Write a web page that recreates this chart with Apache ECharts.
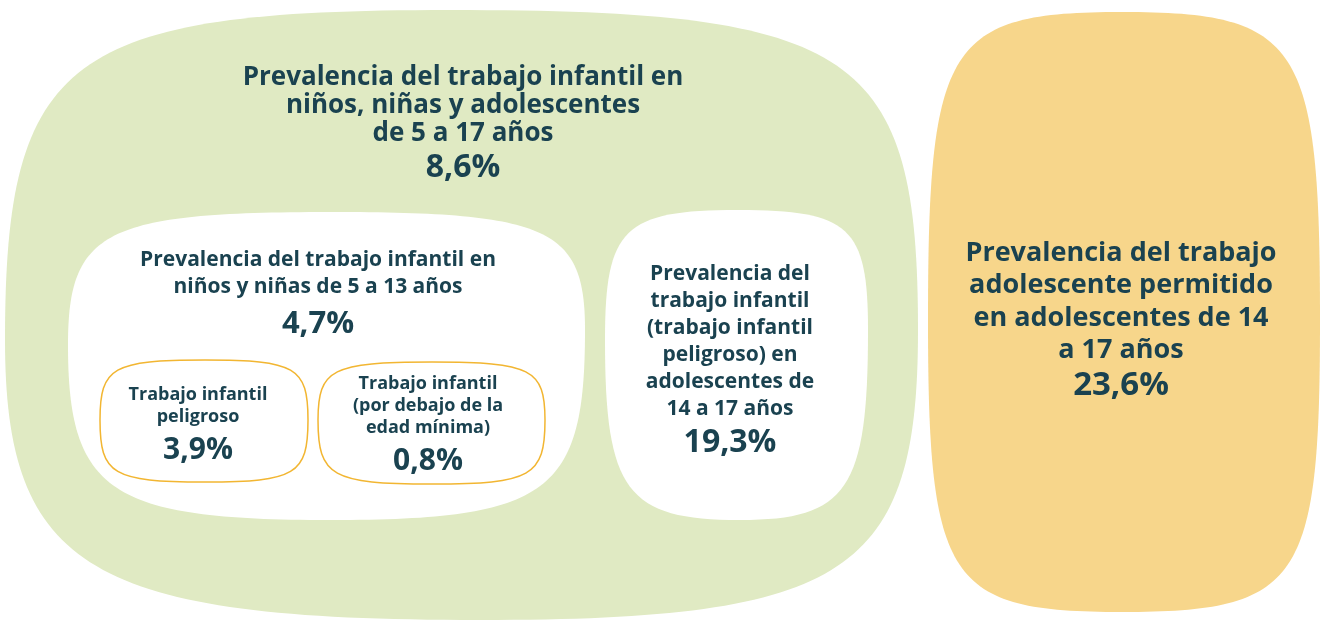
<!DOCTYPE html>
<html>
<head>
<meta charset="utf-8">
<script src="https://cdn.jsdelivr.net/npm/echarts@6/dist/echarts.min.js"></script>
<style>
  html, body { margin: 0; padding: 0; background: #fff; }
  #chart { width: 1325px; height: 621px; }
</style>
</head>
<body>
<div id="chart"></div>
<script>
// textos y valores del gráfico
var labels = [
	'Prevalencia del trabajo infantil en\nniños, niñas y adolescentes\nde 5 a 17 años',
	'Prevalencia del trabajo infantil en\nniños y niñas de 5 a 13 años',
	'Prevalencia del\ntrabajo infantil\n(trabajo infantil\npeligroso) en\nadolescentes de\n14 a 17 años',
	'Trabajo infantil\npeligroso',
	'Trabajo infantil\n(por debajo de la\nedad mínima)',
	'Prevalencia del trabajo\nadolescente permitido\nen adolescentes de 14\na 17 años'
];
var rates = [8.6, 4.7, 19.3, 3.9, 0.8, 23.6];

// forma de cada burbuja: [left, top, right, bottom, topX, rightY, bottomX, leftY], curvatura [tl, tr, br, bl]
var blobs = [
	{ p: [5, 10, 918, 620, 450, 330, 480, 340], k: [0.86, 0.87, 0.84, 0.82], fill: '#e0eac3', stroke: null },
	{ p: [68, 212, 585, 520, 330, 330, 330, 345], k: [0.86, 0.86, 0.86, 0.84], fill: '#ffffff', stroke: null },
	{ p: [605, 210, 868, 520, 738, 330, 740, 340], k: [0.86, 0.86, 0.84, 0.84], fill: '#ffffff', stroke: null },
	{ p: [100, 360, 308, 482, 205, 420, 205, 420], k: [0.88, 0.88, 0.88, 0.88], fill: '#ffffff', stroke: '#f2b632' },
	{ p: [318, 362, 545, 484, 432, 420, 432, 420], k: [0.88, 0.88, 0.88, 0.88], fill: '#ffffff', stroke: '#f2b632' },
	{ p: [928, 12, 1320, 612, 1122, 320, 1122, 320], k: [0.9, 0.9, 0.9, 0.9], fill: '#f7d68b', stroke: null }
];
// posición del texto: centro x, arriba y, tamaño, interlineado, tamaño y alto del valor
var texts = [
	{ x: 463, y: 64, fs: 26, lh: 28, vfs: 32, vlh: 40 },
	{ x: 318, y: 247, fs: 21, lh: 27, vfs: 31, vlh: 47 },
	{ x: 730, y: 261, fs: 21, lh: 27, vfs: 32, vlh: 39 },
	{ x: 198, y: 384, fs: 18, lh: 22, vfs: 30, vlh: 44 },
	{ x: 428, y: 373, fs: 18, lh: 22, vfs: 30, vlh: 44 },
	{ x: 1121, y: 237, fs: 27, lh: 32.5, vfs: 33, vlh: 38 }
];
var order = [0, 1, 2, 3, 4, 5];
var textColor = '#1a4250';
var fontName = 'Open Sans';

function fmt(v) {
	return v.toFixed(1).replace('.', ',') + '%';
}

function blobPath(api, b) {
	var p = b.p, k = b.k;
	function c(x, y) { return api.coord([x, y]); }
	var T = c(p[4], p[1]), R = c(p[2], p[5]), B = c(p[6], p[3]), L = c(p[0], p[7]);
	var d = 'M' + T[0] + ' ' + T[1];
	d += ' C' + (T[0] + k[1] * (R[0] - T[0])) + ' ' + T[1] + ' ' + R[0] + ' ' + (R[1] - k[1] * (R[1] - T[1])) + ' ' + R[0] + ' ' + R[1];
	d += ' C' + R[0] + ' ' + (R[1] + k[2] * (B[1] - R[1])) + ' ' + (B[0] + k[2] * (R[0] - B[0])) + ' ' + B[1] + ' ' + B[0] + ' ' + B[1];
	d += ' C' + (B[0] - k[3] * (B[0] - L[0])) + ' ' + B[1] + ' ' + L[0] + ' ' + (L[1] + k[3] * (B[1] - L[1])) + ' ' + L[0] + ' ' + L[1];
	d += ' C' + L[0] + ' ' + (L[1] - k[0] * (L[1] - T[1])) + ' ' + (T[0] - k[0] * (T[0] - L[0])) + ' ' + T[1] + ' ' + T[0] + ' ' + T[1] + ' Z';
	return d;
}

var myChart = echarts.init(document.getElementById('chart'));

option = {
	animation: false,
	grid: { left: 0, right: 0, top: 0, bottom: 0 },
	xAxis: { type: 'value', min: 0, max: 1325, show: false },
	yAxis: { type: 'value', min: 0, max: 621, inverse: true, show: false },
	series: [
		{
			type: 'custom',
			coordinateSystem: 'cartesian2d',
			data: order.map(function (i) { return [i, rates[i]]; }),
			renderItem: function (params, api) {
				var i = api.value(0);
				var b = blobs[i], t = texts[i];
				var pos = api.coord([t.x, t.y]);
				var lines = labels[i].split('\n').map(function (l) { return '{t|' + l + '}'; });
				lines.push('{v|' + fmt(api.value(1)) + '}');
				return {
					type: 'group',
					children: [
						{
							type: 'path',
							shape: { pathData: blobPath(api, b) },
							style: {
								fill: b.fill,
								stroke: b.stroke || null,
								lineWidth: b.stroke ? 1.5 : 0
							}
						},
						{
							type: 'text',
							style: {
								x: pos[0],
								y: pos[1],
								text: lines.join('\n'),
								fill: textColor,
								align: 'center',
								verticalAlign: 'top',
								rich: {
									t: {
										fontFamily: fontName,
										fontWeight: 'bold',
										fontSize: t.fs,
										lineHeight: t.lh,
										fill: textColor,
										align: 'center'
									},
									v: {
										fontFamily: fontName,
										fontWeight: 'bold',
										fontSize: t.vfs,
										lineHeight: t.vlh,
										fill: textColor,
										align: 'center'
									}
								}
							}
						}
					]
				};
			}
		}
	]
};
myChart.setOption(option);
</script>
</body>
</html>
